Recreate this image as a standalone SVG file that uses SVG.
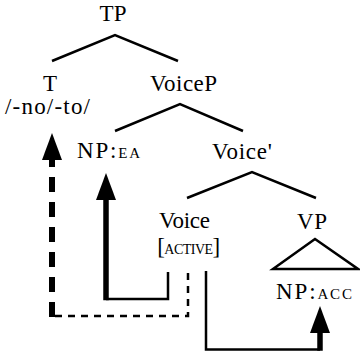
<svg xmlns="http://www.w3.org/2000/svg" width="360" height="355" viewBox="0 0 360 355">
  <style>
    .lbl { font-family: 'Liberation Serif', 'Times New Roman', serif; font-size: 23px; fill: #000; text-anchor: middle; }
    .sc { font-size: 15px; }
    .sc2 { font-size: 14px; }
    .edge { fill: none; stroke: #000; stroke-width: 2.5; stroke-linejoin: miter; }
    .thin { fill: none; stroke: #000; stroke-width: 2.5; }
    .thick { fill: none; stroke: #000; stroke-width: 5.5; }
    .dthick { fill: none; stroke: #000; stroke-width: 6; stroke-dasharray: 15 10; }
    .dthin { fill: none; stroke: #000; stroke-width: 2.5; stroke-dasharray: 7 6; }
    .head { fill: #000; stroke: none; }
  </style>
  <rect width="360" height="355" fill="#fff"/>
  <g id="connectors">
    <polyline class="edge" points="52,61 115,35 178,61"/>
    <polyline class="edge" points="115,131 180,104 243,131"/>
    <polyline class="edge" points="187,198 252,172 316,198"/>
    <path class="dthin" d="M188,273 V316 H52"/>
    <path class="dthick" d="M52,152 V318"/>
    <polygon class="head" points="52,133 62,160 42,160"/>
    <path class="thin" d="M168,272 V299 H106"/>
    <path class="thick" d="M106,198 V300.25"/>
    <polygon class="head" points="106,173 116,200 96,200"/>
    <path class="thin" d="M206,271 V349.5 H320"/>
    <path class="thick" d="M320,331 V350.75"/>
    <polygon class="head" points="320,306 330,333 310,333"/>
  </g>
  <g id="TP"><text class="lbl" x="113" y="21" textLength="27" lengthAdjust="spacing">TP</text></g>
  <g id="T"><text class="lbl" x="50" y="91">T</text><text class="lbl" x="47.5" y="114" textLength="85" lengthAdjust="spacing">/-no/-to/</text></g>
  <g id="VoiceP"><text class="lbl" x="183.5" y="91" textLength="67" lengthAdjust="spacing">VoiceP</text></g>
  <g id="NP_EA"><text class="lbl" x="108.5" y="158" textLength="63" lengthAdjust="spacing">NP:<tspan class="sc">EA</tspan></text></g>
  <g id="VoiceBar"><text class="lbl" x="242" y="159" textLength="60" lengthAdjust="spacing">Voice'</text></g>
  <g id="Voice"><text class="lbl" x="184.5" y="228" textLength="51" lengthAdjust="spacing">Voice</text><text class="lbl" x="188.7" y="254" textLength="63" lengthAdjust="spacing">[<tspan class="sc2">ACTIVE</tspan>]</text></g>
  <g id="VP"><text class="lbl" x="312" y="229" textLength="30" lengthAdjust="spacing">VP</text><polygon class="edge" points="315,239 273,269 358,269"/></g>
  <g id="NP_ACC"><text class="lbl" x="314" y="299" textLength="76" lengthAdjust="spacing">NP:<tspan class="sc">ACC</tspan></text></g>
</svg>
